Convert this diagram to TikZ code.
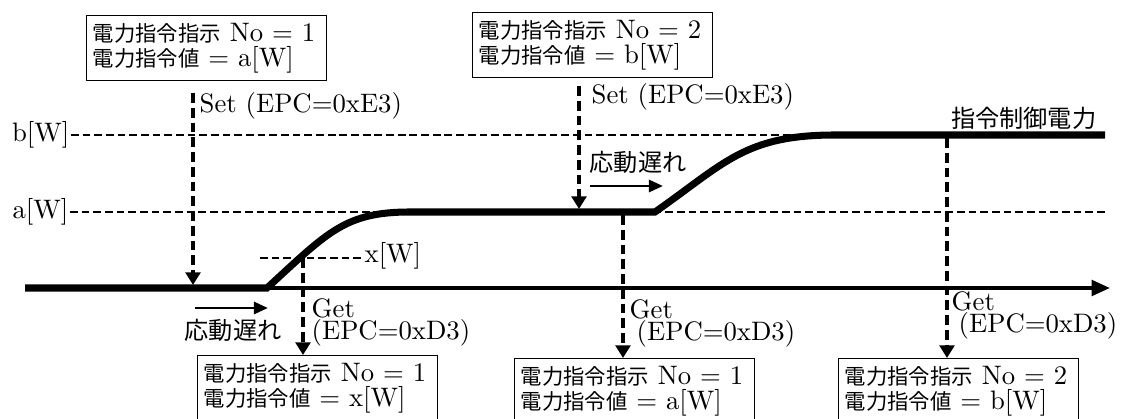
\documentclass[tikz,border=0pt]{standalone}
\usepackage{fontspec}
\setmainfont{lmroman10-regular.otf}
\newfontfamily\jp{Noto Sans CJK JP}[Scale=0.8]
\usetikzlibrary{arrows.meta,positioning}

\begin{document}
\begin{tikzpicture}[x=0.025cm, y=-0.025cm,
  font=\fontsize{19}{17.8}\selectfont,
  cmdbox/.style={draw=black, line width=0.9pt, align=left, anchor=north west,
                 text width=5.7cm, inner xsep=0.15cm, minimum height=1.625cm},
  lbl/.style={inner sep=1pt},
  jplbl/.style={inner sep=1pt, font=\fontsize{21.5}{22}\selectfont\jp},
  getlbl/.style={inner sep=1pt, anchor=north west, align=left,
                 font=\fontsize{19}{15.6}\selectfont},
  levelline/.style={line width=1.4pt, dash pattern=on 5.5pt off 2.8pt},
  cmdarrow/.style={line width=2.6pt, dash pattern=on 7pt off 3.5pt,
                   -{Triangle[length=9pt,width=10.5pt]}},
  power/.style={line width=5pt},
  timeaxis/.style={line width=2.6pt, -{Triangle[length=13pt,width=11pt]}},
  lagarrow/.style={line width=2pt, -{Triangle[length=10pt,width=8.5pt]}},
]
  \useasboundingbox (0,0) rectangle (1133,419);

  % levels
  \node[lbl, anchor=east] (lvB) at (71,135) {b[W]};
  \node[lbl, anchor=east] (lvA) at (70,212) {a[W]};
  \coordinate (lvBend) at (1105,135);
  \coordinate (lvAend) at (1105,212);
  \draw[levelline] (lvB) -- (lvBend);
  \draw[levelline] (lvA) -- (lvAend);
  \node[lbl, anchor=west] (lvX) at (363,256) {x[W]};
  \coordinate (lvXstart) at (260,258);
  \draw[levelline] (lvXstart) -- (lvX.west |- lvXstart);

  % time axis and controlled power
  \coordinate (axisStart) at (25,288);
  \coordinate (axisEnd) at (1110,288);
  \draw[timeaxis] (axisStart) -- (axisEnd);
  \draw[power] (axisStart) -- (267,288) .. controls (328,232) and (345,212) .. (410,212)
    -- (655,212) .. controls (725,163) and (745,135) .. (835,135) -- (1105,135);
  \node[jplbl, anchor=south east] (target) at (1098,131) {指令制御電力};

  % Set requests
  \node[cmdbox] (cmdA) at (86,15) {{\jp 電力指令指示} No~=~1\\{\jp 電力指令値}~=~a[W]};
  \node[cmdbox] (cmdB) at (472,12) {{\jp 電力指令指示} No~=~2\\{\jp 電力指令値}~=~b[W]};
  \coordinate (setA) at (193,93);
  \coordinate (setAtip) at (193,285);
  \coordinate (setB) at (579,86);
  \coordinate (setBtip) at (579,209);
  \draw[cmdarrow] (setA) -- (setAtip);
  \draw[cmdarrow] (setB) -- (setBtip);
  \node[lbl, anchor=base west] (setAlbl) at (198,113) {Set (EPC=0xE3)};
  \node[lbl, anchor=base west] (setBlbl) at (590,104) {Set (EPC=0xE3)};

  % response delay
  \coordinate (lagA) at (195,308);
  \coordinate (lagAtip) at (268,308);
  \coordinate (lagB) at (590,186);
  \coordinate (lagBtip) at (663,186);
  \draw[lagarrow] (lagA) -- (lagAtip);
  \draw[lagarrow] (lagB) -- (lagBtip);
  \node[jplbl] (lagAlbl) at (233,330) {応動遅れ};
  \node[jplbl] (lagBlbl) at (638,162) {応動遅れ};

  % Get requests
  \node[cmdbox] (resA) at (197,355) {{\jp 電力指令指示} No~=~1\\{\jp 電力指令値}~=~x[W]};
  \node[cmdbox] (resB) at (514,358) {{\jp 電力指令指示} No~=~1\\{\jp 電力指令値}~=~a[W]};
  \node[cmdbox] (resC) at (838,358) {{\jp 電力指令指示} No~=~2\\{\jp 電力指令値}~=~b[W]};
  \coordinate (getA) at (303,258);
  \coordinate (getB) at (623,215);
  \coordinate (getC) at (947,138);
  \draw[cmdarrow] (getA) -- (getA |- resA.north);
  \draw[cmdarrow] (getB) -- (getB |- resB.north);
  \draw[cmdarrow] (getC) -- (getC |- resC.north);
  \node[getlbl] (getAlbl) at (310,297) {Get\\(EPC=0xD3)};
  \node[getlbl] (getBlbl) at (628,298) {Get\\\hspace*{5pt}(EPC=0xD3)};
  \node[getlbl] (getClbl) at (950,290) {Get\\\hspace*{5pt}(EPC=0xD3)};
\end{tikzpicture}
\end{document}
